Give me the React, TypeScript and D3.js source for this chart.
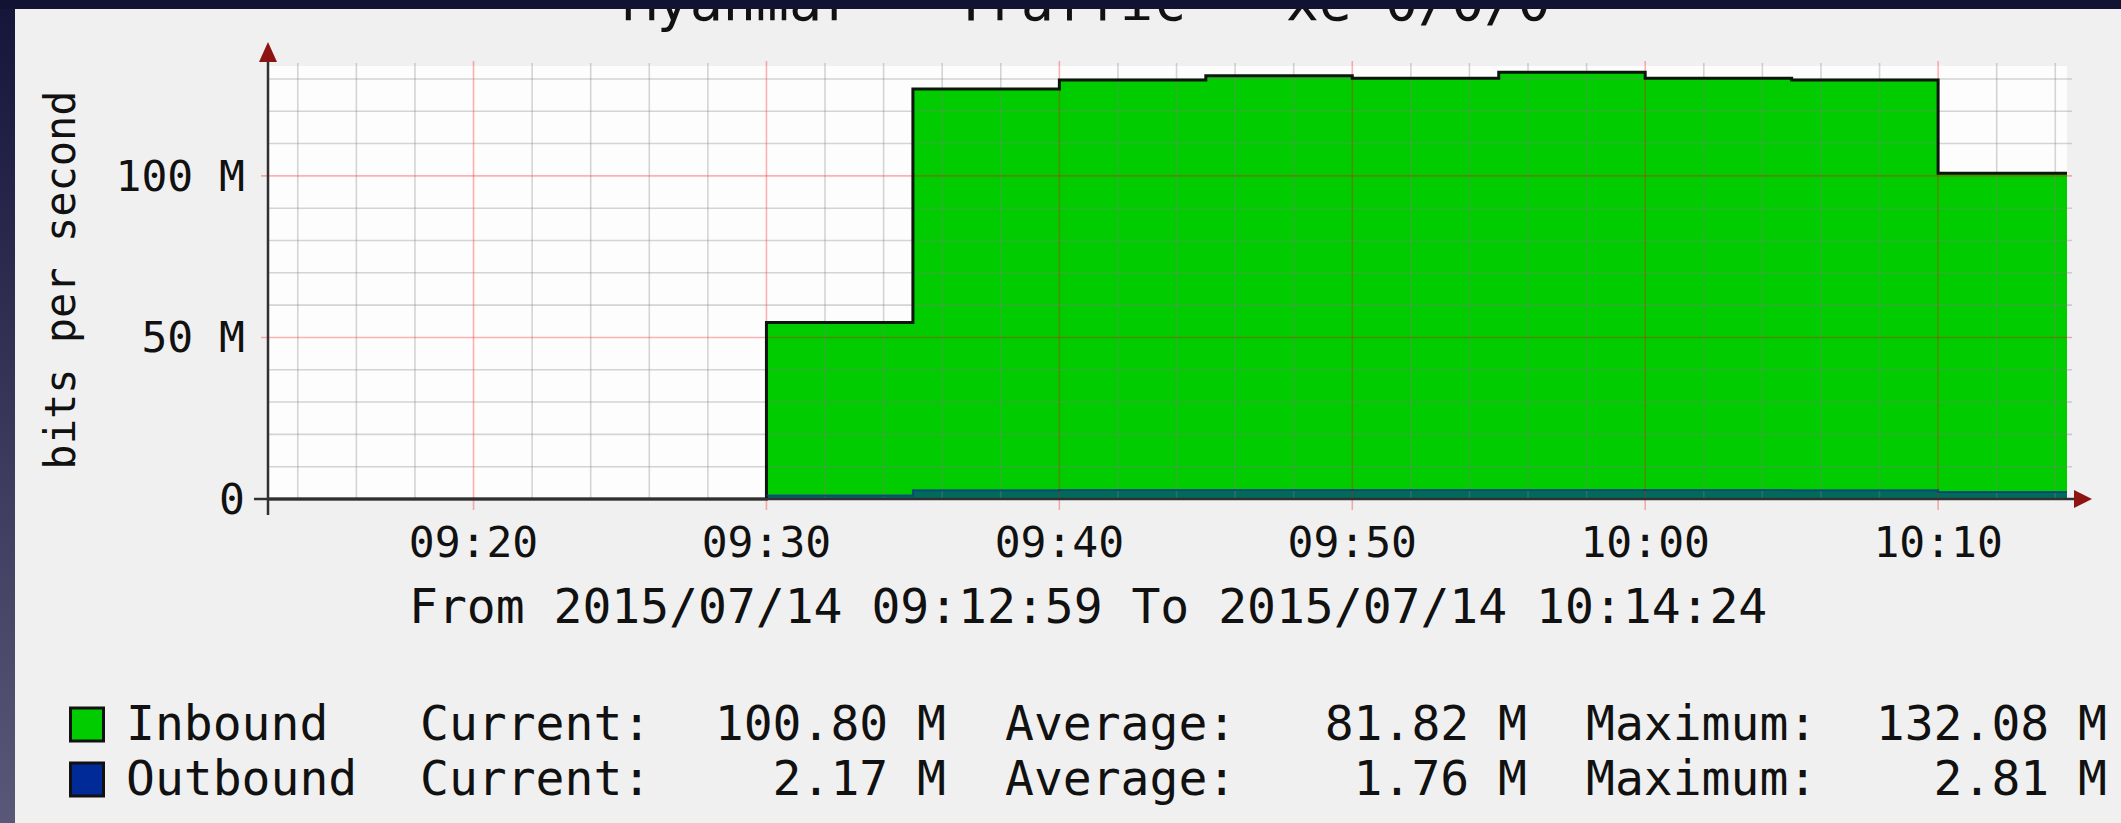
import React, { useEffect, useRef } from "react";
import * as d3 from "d3";

// step samples (5 min RRD steps), values in Mbit/s
const times = ["09:12:59", "09:30:00", "09:35:00", "09:40:00", "09:45:00", "09:50:00", "09:55:00", "10:00:00", "10:05:00", "10:10:00", "10:14:24"];
const inbound = [0, 54.6, 126.9, 129.7, 131.0, 130.2, 132.08, 130.2, 129.7, 100.8, 100.8];
const outbound = [0, 1.1, 2.7, 2.75, 2.8, 2.78, 2.81, 2.75, 2.7, 2.17, 2.17];

const xTickLabels = ["09:20", "09:30", "09:40", "09:50", "10:00", "10:10"];
const yTicks = [0, 50, 100];
const yTickLabels = ["0", "50 M", "100 M"];
const yMax = 134;

const legendNames = ["Inbound", "Outbound"];
const legendColors = ["#00cc00", "#002a97"];
const currentVals = ["100.80 M", "2.17 M"];
const averageVals = ["81.82 M", "1.76 M"];
const maximumVals = ["132.08 M", "2.81 M"];

const title = "Myanmar - Traffic - xe-0/0/0";
const subtitle = "From 2015/07/14 09:12:59 To 2015/07/14 10:14:24";

const W = 2121;
const H = 823;
const m = { left: 268, right: 2067, top: 66, bottom: 499 };
const mono = "'DejaVu Sans Mono', monospace";

const App = () => {
  const svgRef = useRef<SVGSVGElement | null>(null);

  useEffect(() => {
    document.body.style.margin = "0";
    const svg = d3.select(svgRef.current);
    svg.selectAll("*").remove();

    const parse = d3.timeParse("%H:%M:%S");
    const parseHM = d3.timeParse("%H:%M");
    const data = times.map((t, i) => ({ t: parse(t)!, inb: inbound[i], out: outbound[i] }));
    const t0 = data[0].t;
    const t1 = data[data.length - 1].t;

    const x = d3.scaleTime().domain([t0, t1]).range([m.left, m.right]);
    const y = d3.scaleLinear().domain([0, yMax]).range([m.bottom, m.top]);

    // backgrounds
    svg.append("rect").attr("width", W).attr("height", H).attr("fill", "#f0f0f0");
    svg.append("rect")
      .attr("x", m.left).attr("y", m.top)
      .attr("width", m.right - m.left).attr("height", m.bottom - m.top)
      .attr("fill", "#fdfdfd");

    // areas
    const inArea = d3.area<any>()
      .curve(d3.curveStepAfter)
      .x((d) => x(d.t))
      .y0(y(0))
      .y1((d) => y(d.inb));
    svg.append("path").datum(data).attr("d", inArea).attr("fill", "#00cc00");

    const outArea = d3.area<any>()
      .curve(d3.curveStepAfter)
      .x((d) => x(d.t))
      .y0(y(0))
      .y1((d) => y(d.out));
    svg.append("path").datum(data).attr("d", outArea).attr("fill", "#002a97").attr("opacity", 0.6);

    // grid, drawn over the data like rrdtool does
    const grid = svg.append("g");
    const minorCol = "rgba(128,128,128,0.32)";
    const majorCol = "rgba(255,0,0,0.3)";

    const minorX = d3.timeMinute.every(2)!.range(t0, t1).filter((d) => d.getMinutes() % 10 !== 0);
    const majorX = d3.timeMinute.every(10)!.range(t0, t1);
    grid.selectAll(".vminor").data(minorX).enter().append("line")
      .attr("x1", (d) => x(d)).attr("x2", (d) => x(d))
      .attr("y1", m.top - 3).attr("y2", m.bottom)
      .attr("stroke", minorCol).attr("stroke-width", 1.6);
    grid.selectAll(".vmajor").data(majorX).enter().append("line")
      .attr("x1", (d) => x(d)).attr("x2", (d) => x(d))
      .attr("y1", m.top - 5).attr("y2", m.bottom + 11)
      .attr("stroke", majorCol).attr("stroke-width", 1.6);

    const minorY = d3.range(10, yMax, 10).filter((v) => v % 50 !== 0);
    const majorY = yTicks.filter((v) => v > 0);
    grid.selectAll(".hminor").data(minorY).enter().append("line")
      .attr("x1", m.left).attr("x2", m.right + 5)
      .attr("y1", (d) => y(d)).attr("y2", (d) => y(d))
      .attr("stroke", minorCol).attr("stroke-width", 1.6);
    grid.selectAll(".hmajor").data(majorY).enter().append("line")
      .attr("x1", m.left - 7).attr("x2", m.right + 5)
      .attr("y1", (d) => y(d)).attr("y2", (d) => y(d))
      .attr("stroke", majorCol).attr("stroke-width", 1.6);

    // outlines
    const inLine = d3.line<any>().curve(d3.curveStepAfter).x((d) => x(d.t)).y((d) => y(d.inb));
    svg.append("path").datum(data).attr("d", inLine)
      .attr("fill", "none").attr("stroke", "#0c160c").attr("stroke-width", 3);
    const outLine = d3.line<any>().curve(d3.curveStepAfter).x((d) => x(d.t)).y((d) => y(d.out));
    svg.append("path").datum(data.slice(1)).attr("d", outLine)
      .attr("fill", "none").attr("stroke", "#0a3a8a").attr("stroke-width", 2).attr("opacity", 0.8);

    // axes
    const axisCol = "#303030";
    const arrowCol = "#8e1414";
    svg.append("line")
      .attr("x1", m.left - 14).attr("x2", m.right + 8)
      .attr("y1", y(0)).attr("y2", y(0))
      .attr("stroke", axisCol).attr("stroke-width", 2.5);
    svg.append("line")
      .attr("x1", m.left).attr("x2", m.left)
      .attr("y1", m.bottom + 16).attr("y2", m.top - 6)
      .attr("stroke", axisCol).attr("stroke-width", 2.5);
    svg.append("path")
      .attr("d", `M${m.right + 25},${y(0)} L${m.right + 7},${y(0) - 9} L${m.right + 7},${y(0) + 9} Z`)
      .attr("fill", arrowCol);
    svg.append("path")
      .attr("d", `M${m.left},${m.top - 24} L${m.left - 9},${m.top - 4} L${m.left + 9},${m.top - 4} Z`)
      .attr("fill", arrowCol);

    // tick labels
    const fmt = d3.timeFormat("%H:%M");
    svg.selectAll(".xlab").data(xTickLabels).enter().append("text")
      .attr("x", (d) => {
        const p = parseHM(d)!;
        const ref = new Date(t0);
        ref.setHours(p.getHours(), p.getMinutes(), 0, 0);
        return x(ref);
      })
      .attr("y", 557)
      .attr("text-anchor", "middle")
      .style("font-family", mono).style("font-size", "43px").style("fill", "#111")
      .text((d) => fmt(parseHM(d)!));

    svg.selectAll(".ylab").data(yTicks).enter().append("text")
      .attr("x", 245)
      .attr("y", (d) => y(d) + 15)
      .attr("text-anchor", "end")
      .style("font-family", mono).style("font-size", "43px").style("fill", "#111")
      .text((d, i) => yTickLabels[i]);

    svg.append("text")
      .attr("transform", `translate(75, 280) rotate(-90)`)
      .attr("text-anchor", "middle")
      .style("font-family", mono).style("font-size", "42px").style("fill", "#111")
      .text("bits per second");

    svg.append("text")
      .attr("x", 409).attr("y", 623)
      .style("font-family", mono).style("font-size", "48px").style("fill", "#111")
      .text(subtitle);

    // legend
    const rows = [740, 795];
    legendNames.forEach((name, i) => {
      const by = rows[i];
      svg.append("rect")
        .attr("x", 70.5).attr("y", by - 32)
        .attr("width", 33).attr("height", 33)
        .attr("fill", legendColors[i])
        .attr("stroke", "#111").attr("stroke-width", 3);
      const txt = (s: string, xp: number, anchor: string) =>
        svg.append("text")
          .attr("x", xp).attr("y", by)
          .attr("text-anchor", anchor)
          .style("font-family", mono).style("font-size", "48px").style("fill", "#111")
          .text(s);
      txt(name, 126, "start");
      txt("Current:", 420, "start");
      txt(currentVals[i], 946, "end");
      txt("Average:", 1005, "start");
      txt(averageVals[i], 1527, "end");
      txt("Maximum:", 1586, "start");
      txt(maximumVals[i], 2107, "end");
    });

    // title, mostly cut off by the frame
    svg.append("text")
      .attr("x", 1087).attr("y", 20)
      .attr("text-anchor", "middle")
      .style("font-family", mono).style("font-size", "55px").style("fill", "#111")
      .text(title);

    // dark frame of the screenshot
    const grad = svg.append("defs").append("linearGradient")
      .attr("id", "edge").attr("x1", 0).attr("x2", 0).attr("y1", 0).attr("y2", 1);
    grad.append("stop").attr("offset", "0%").attr("stop-color", "#15153a");
    grad.append("stop").attr("offset", "100%").attr("stop-color", "#5a5878");
    svg.append("rect").attr("x", 0).attr("y", 0).attr("width", 15).attr("height", H).attr("fill", "url(#edge)");
    svg.append("rect").attr("x", 0).attr("y", 0).attr("width", W).attr("height", 9).attr("fill", "#121233");
  }, []);

  return <svg ref={svgRef} width={W} height={H} style={{ display: "block" }}></svg>;
};

export default App;
